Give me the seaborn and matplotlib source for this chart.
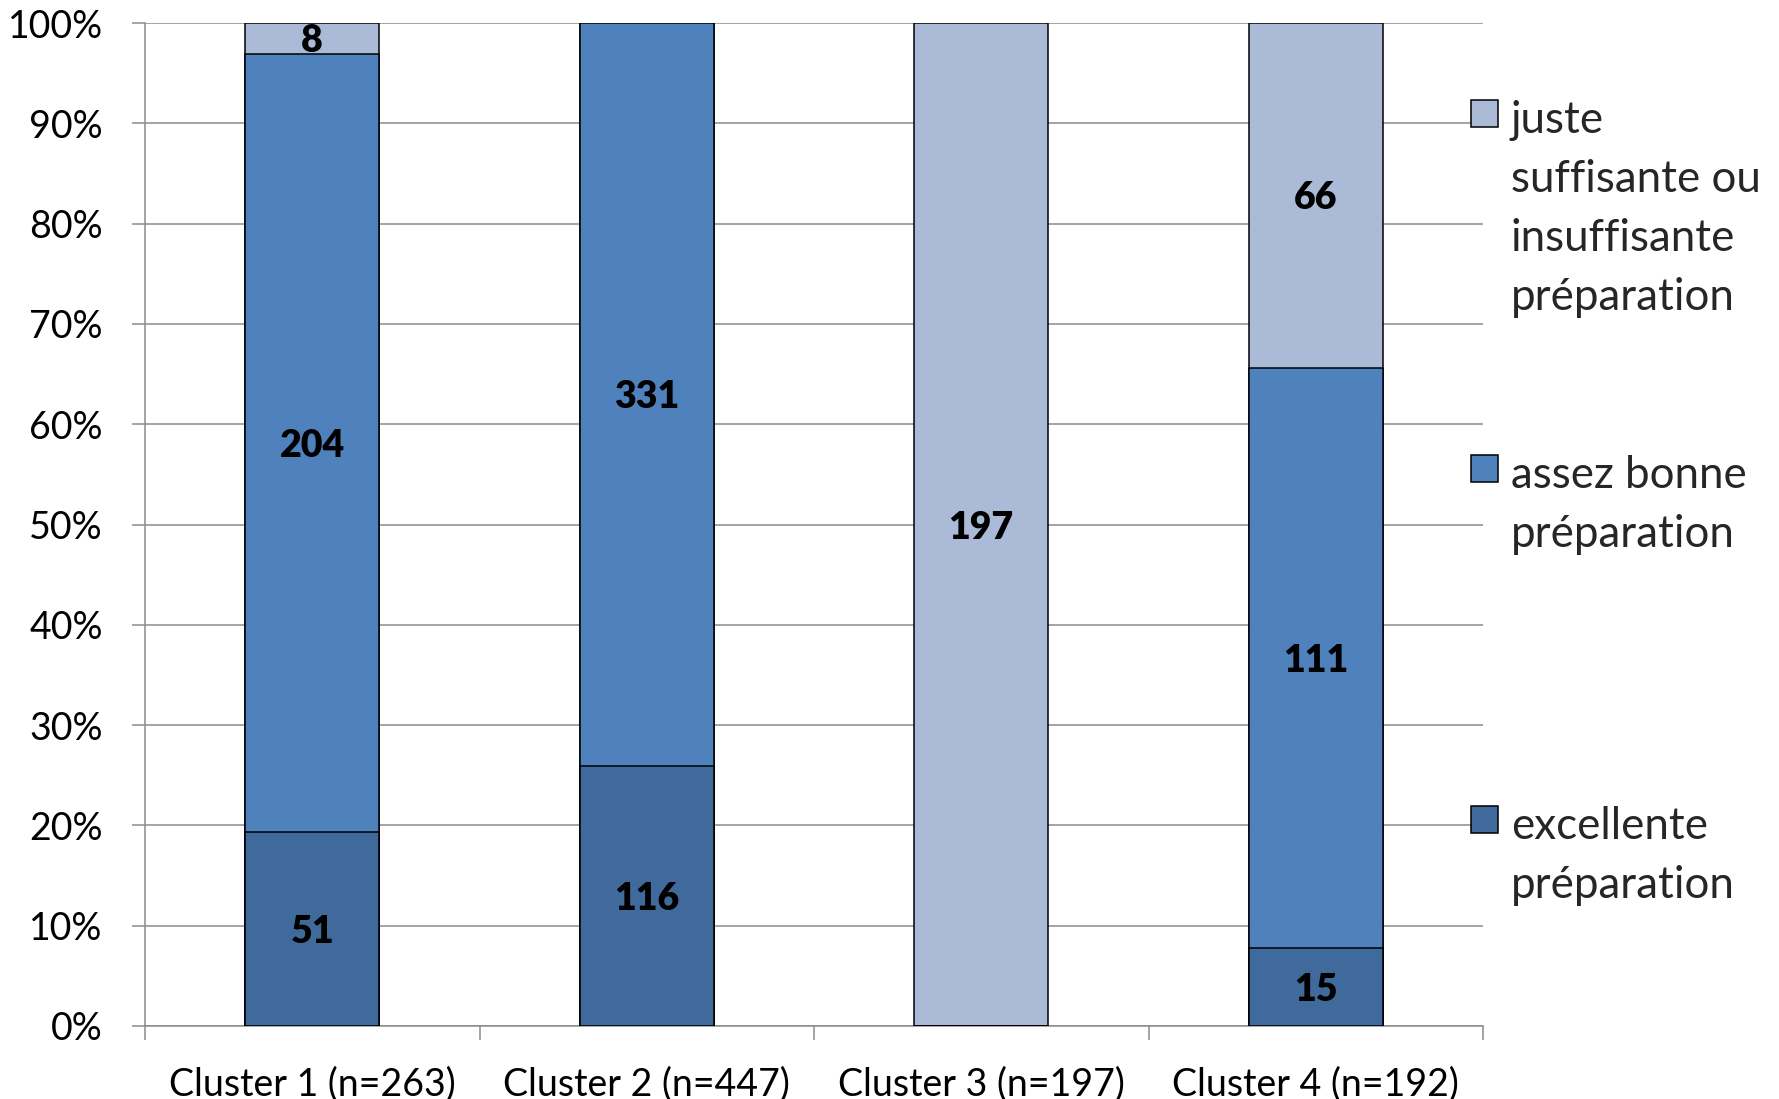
import numpy as np
import pandas as pd
import matplotlib
matplotlib.use("Agg")
import matplotlib.pyplot as plt
import seaborn as sns
from matplotlib.ticker import MultipleLocator, FuncFormatter, FixedLocator
from matplotlib.patches import Patch

# ---- data ----
categories = ["Cluster 1 (n=263)", "Cluster 2 (n=447)", "Cluster 3 (n=197)", "Cluster 4 (n=192)"]
excellente = [51, 116, 0, 15]
assez_bonne = [204, 331, 0, 111]
juste = [8, 0, 197, 66]
legend_labels = ["juste\nsuffisante ou\ninsuffisante\npréparation",
                 "assez bonne\npréparation",
                 "excellente\npréparation"]

# ---- style ----
c_light = "#AABAD7"
c_mid = "#4F81BD"
c_dark = "#40699C"
grey = "#8C8C8C"

sns.set_theme(style="white")
plt.rcParams['font.family'] = ['Lato', 'DejaVu Sans']

df = pd.DataFrame({"cat": categories, "exc": excellente, "ass": assez_bonne, "jus": juste})
tot = df[["exc", "ass", "jus"]].sum(axis=1)
df["p_exc"] = df["exc"] / tot * 100
df["p_ass"] = df["ass"] / tot * 100
df["p_jus"] = df["jus"] / tot * 100
df["c1"] = df["p_exc"]
df["c2"] = df["c1"] + df["p_ass"]
df["c3"] = df["c2"] + df["p_jus"]

W, H = 1779, 1099
fig = plt.figure(figsize=(W / 100, H / 100), dpi=100)
ax = fig.add_axes([145 / W, 1 - 1026 / H, (1483 - 145) / W, (1026 - 23) / H])

for col, color in [("c3", c_light), ("c2", c_mid), ("c1", c_dark)]:
    sns.barplot(data=df, x="cat", y=col, order=categories, color=color, width=0.4,
                edgecolor="black", linewidth=1.1, saturation=1, errorbar=None,
                ax=ax, zorder=3)

# segment labels
for i in range(len(categories)):
    segs = [(df.loc[i, "exc"], 0.0, df.loc[i, "p_exc"]),
            (df.loc[i, "ass"], df.loc[i, "c1"], df.loc[i, "p_ass"]),
            (df.loc[i, "jus"], df.loc[i, "c2"], df.loc[i, "p_jus"])]
    for val, bottom, pct in segs:
        if val > 0:
            ax.text(i, bottom + pct / 2, f"{val}", ha="center", va="center_baseline",
                    fontsize=27, fontweight="heavy", color="black", zorder=5)

ax.set_xlim(-0.5, len(categories) - 0.5)
ax.set_ylim(0, 100)
ax.yaxis.set_major_locator(MultipleLocator(10))
ax.yaxis.set_major_formatter(FuncFormatter(lambda v, p: f"{v:.0f}%"))
ax.set_xlabel("")
ax.set_ylabel("")
ax.yaxis.grid(True, color=grey, linewidth=1.1, zorder=0)
ax.xaxis.grid(False)
ax.set_axisbelow(True)

for s in ["top", "right"]:
    ax.spines[s].set_visible(False)
for s in ["left", "bottom"]:
    ax.spines[s].set_color(grey)
    ax.spines[s].set_linewidth(1.1)

ax.xaxis.set_minor_locator(FixedLocator(np.arange(-0.5, len(categories), 1.0)))
ax.tick_params(axis="x", which="major", bottom=True, length=0, pad=29, labelsize=27, colors="black")
ax.tick_params(axis="x", which="minor", bottom=True, length=10, width=1.1, color=grey, direction="out")
ax.tick_params(axis="y", which="major", left=True, length=9.4, width=1.1, color=grey, direction="out",
               pad=21, labelsize=27, labelcolor="black")

# legend: one block per series, stacked at Excel-like positions
tops = [100, 455, 806]
colors = [c_light, c_mid, c_dark]
for lab, col, top in zip(legend_labels, colors, tops):
    leg = fig.legend(handles=[Patch(facecolor=col, edgecolor="black", linewidth=1.1)],
                     labels=[lab], loc="upper left",
                     bbox_to_anchor=(1470.7 / W, 1 - top / H),
                     frameon=False, borderpad=0, borderaxespad=0,
                     handlelength=0.615, handleheight=0.569, handletextpad=0.3,
                     fontsize=31.6)
    for t in leg.get_texts():
        t.set_linespacing(1.55)
    for colbox in leg._legend_handle_box.get_children():
        for item in colbox.get_children():
            item.align = "top"

fig.savefig("out.png", dpi=100)
